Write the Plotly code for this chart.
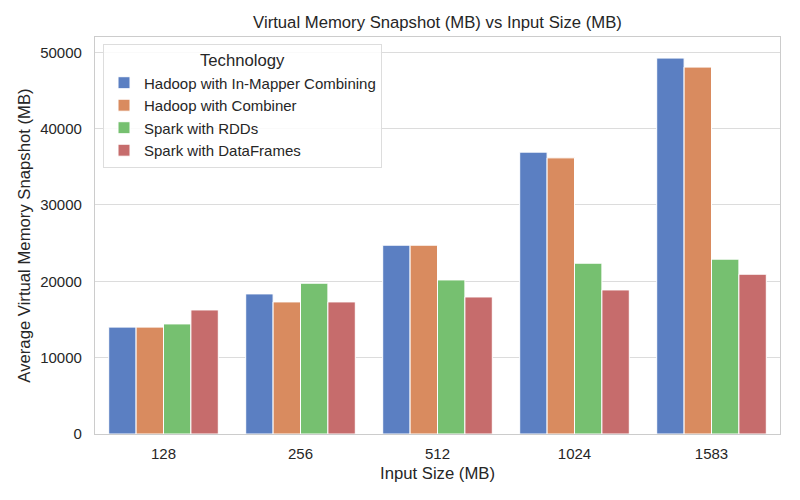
import plotly.graph_objects as go

sizes = ["128", "256", "512", "1024", "1583"]
technologies = ["Hadoop with In-Mapper Combining", "Hadoop with Combiner",
                "Spark with RDDs", "Spark with DataFrames"]
imc = [14000, 18350, 24730, 36920, 49240]
combiner = [14000, 17300, 24730, 36170, 48060]
rdds = [14420, 19750, 20180, 22370, 22900]
dataframes = [16250, 17300, 17950, 18870, 20930]
series = [imc, combiner, rdds, dataframes]
colors = ["#5b7fc2", "#d98b5f", "#76c070", "#c66c6c"]

fig = go.Figure()
for name, vals, c in zip(technologies, series, colors):
    fig.add_trace(go.Bar(x=sizes, y=vals, name=name,
                         marker=dict(color=c, line=dict(color="white", width=1))))

font_family = "Liberation Sans, Arial, sans-serif"
fig.update_layout(
    width=800, height=500,
    barmode="group", bargap=0.2, bargroupgap=0,
    paper_bgcolor="white", plot_bgcolor="white",
    margin=dict(l=87, r=28, t=29, b=74),
    font=dict(family=font_family, color="#262626", size=15),
    title=dict(text="Virtual Memory Snapshot (MB) vs Input Size (MB)",
               x=(87 + 772) / 2 / 800, xanchor="center", y=1 - 14/500, yanchor="middle",
               font=dict(size=16.7, color="#262626")),
    xaxis=dict(title=dict(text="Input Size (MB)", font=dict(size=16.7), standoff=6),
               type="category", showgrid=False, showline=True, linecolor="#cccccc",
               linewidth=1.3, mirror=True, ticks="", tickfont=dict(size=15),
               ticklabelstandoff=6, automargin=False),
    yaxis=dict(title=dict(text="Average Virtual Memory Snapshot (MB)", font=dict(size=16.7), standoff=5),
               range=[0, 52000], showgrid=True, gridcolor="#dcdcdc", gridwidth=1,
               showline=True, linecolor="#cccccc", linewidth=1.3, mirror=True,
               ticks="", tickvals=[0, 10000, 20000, 30000, 40000, 50000],
               tickformat="d", zeroline=False, tickfont=dict(size=15),
               ticklabelstandoff=9, automargin=False),
    legend=dict(title=dict(text="Technology", side="top center", font=dict(size=16.7)),
                x=0.0117, y=0.983, xanchor="left", yanchor="top",
                bgcolor="rgba(255,255,255,0.85)", bordercolor="#dddddd", borderwidth=1,
                font=dict(size=15), tracegroupgap=0, itemwidth=30),
)

fig.write_html("out.html")
